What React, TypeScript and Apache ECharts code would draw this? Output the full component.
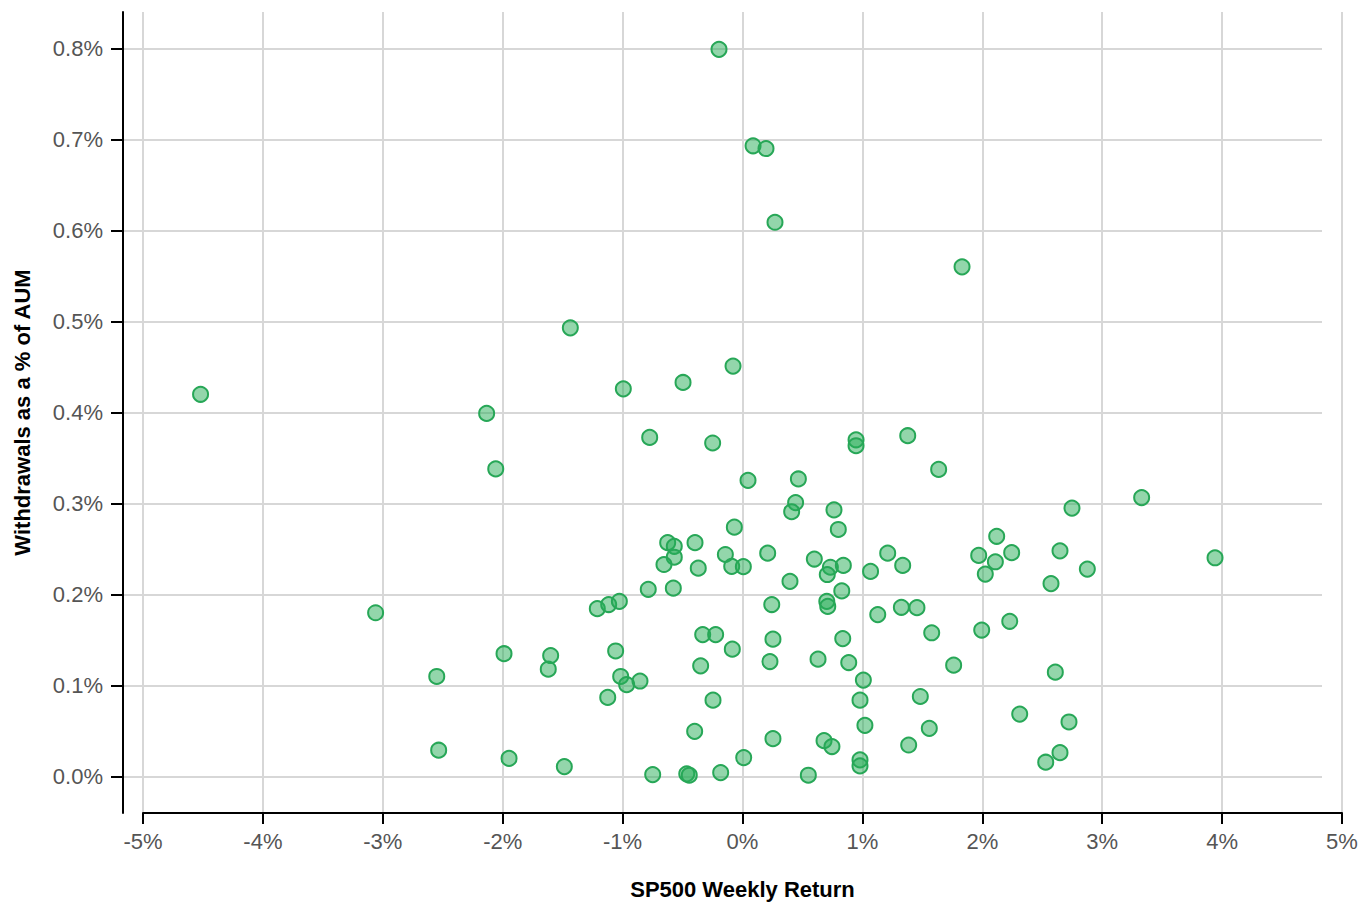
import React, { useEffect, useRef } from "react";
import * as echarts from "echarts";

// SP500 weekly return (%) and withdrawals as a % of AUM (%)
const weeklyReturn = [
  -4.52, -3.06, -2.55, -2.534, -2.134, -2.058, -1.989, -1.947, -1.6, -1.62,
  -1.486, -1.436, -1.211, -1.116, -1.027, -1.058, -1.016, -0.966, -0.855, -1.124,
  -0.994, -0.496, -0.079, -0.196, 0.088, 0.196, 0.271, 1.831,
  -0.774, -0.249, 0.046, 0.466, 0.947, 0.947, 0.443, 0.41, 0.763, 0.799,
  -0.068, -0.624, -0.569, -0.396, -0.569, -0.655, -0.369, -0.143, -0.09, 0.007,
  0.21, 0.599, 0.733, 0.707, 0.841, 1.068, 0.396, -0.786, -0.577, 0.828,
  0.244, 0.703, 0.711, -0.332, -0.224, -0.085, 0.254, 0.836, -0.349, 0.229,
  0.63, 0.886, 1.008, 0.98, -0.246, 1.021, -0.399, 0.254, 0.68, 0.746,
  0.98, 0.98, 0.01, -0.749, -0.465, -0.444, -0.182, 0.549,
  1.378, 1.636, 2.748, 2.12, 1.211, 1.97, 2.245, 2.648, 1.336, 2.109,
  2.025, 2.573, 2.876, 1.128, 1.325, 1.455, 1.578, 1.995, 2.229, 1.761,
  2.609, 1.483, 2.312, 2.723, 1.558, 1.386, 2.648, 2.529,
  3.329, 3.941,
];

const withdrawals = [
  0.42, 0.18, 0.11, 0.029, 0.399, 0.338, 0.135, 0.02, 0.133, 0.118,
  0.011, 0.493, 0.1845, 0.189, 0.1925, 0.138, 0.11, 0.101, 0.105, 0.087,
  0.426, 0.433, 0.451, 0.799, 0.693, 0.69, 0.609, 0.56,
  0.3726, 0.3665, 0.3255, 0.327, 0.37, 0.3635, 0.301, 0.291, 0.293, 0.2715,
  0.274, 0.257, 0.253, 0.257, 0.241, 0.233, 0.229, 0.244, 0.231, 0.2306,
  0.2455, 0.239, 0.23, 0.222, 0.232, 0.2254, 0.2145, 0.2057, 0.207, 0.204,
  0.189, 0.1925, 0.187, 0.156, 0.156, 0.14, 0.151, 0.1516, 0.1217, 0.1264,
  0.129, 0.1253, 0.106, 0.084, 0.084, 0.0563, 0.0497, 0.0417, 0.0395, 0.033,
  0.0183, 0.0117, 0.0208, 0.0022, 0.003, 0.0015, 0.0044, 0.0015,
  0.3745, 0.3375, 0.295, 0.264, 0.2455, 0.243, 0.246, 0.248, 0.232, 0.236,
  0.2225, 0.212, 0.228, 0.178, 0.186, 0.1856, 0.158, 0.161, 0.1706, 0.1224,
  0.1147, 0.088, 0.0687, 0.06, 0.053, 0.0347, 0.0263, 0.0158,
  0.3065, 0.2404,
];

const xTicks = { min: -5, max: 5, step: 1 };
const yRange = { min: -0.04, max: 0.84 };

const xTitle = "SP500 Weekly Return";
const yTitle = "Withdrawals as a % of AUM";

const FONT = "'Liberation Sans', Arial, Helvetica, sans-serif";
const GRID_COLOR = "#d7d7d7";
const LABEL_COLOR = "#555555";

export default function App() {
  const ref = useRef<HTMLDivElement>(null);

  useEffect(() => {
    if (!ref.current) return;
    const chart = echarts.init(ref.current, undefined, { renderer: "svg" });
    const points = weeklyReturn.map((x, i) => [x, withdrawals[i]]);

    chart.setOption({
      animation: false,
      textStyle: { fontFamily: FONT },
      grid: [
        { left: 143, right: 30, top: 12, bottom: 105, containLabel: false },
        { left: 123, right: 50, top: 12, bottom: 105, containLabel: false },
      ],
      xAxis: [
        {
          gridIndex: 0,
          type: "value",
          min: xTicks.min,
          max: xTicks.max,
          interval: xTicks.step,
          axisLine: { show: true, onZero: false, lineStyle: { color: "#000", width: 2 } },
          axisTick: { show: true, inside: false, length: 11, lineStyle: { color: "#000", width: 2 } },
          axisLabel: {
            margin: 17,
            fontSize: 22,
            color: LABEL_COLOR,
            fontFamily: FONT,
            formatter: (v: number) => `${v}%`,
          },
          splitLine: { show: true, lineStyle: { color: GRID_COLOR, width: 2 } },
          name: xTitle,
          nameLocation: "middle",
          nameGap: 65,
          nameTextStyle: { fontSize: 22, fontWeight: "bold", color: "#000", fontFamily: FONT },
        },
        {
          gridIndex: 1,
          type: "value",
          min: xTicks.min,
          max: xTicks.max,
          show: false,
        },
      ],
      yAxis: [
        {
          gridIndex: 0,
          type: "value",
          min: yRange.min,
          max: yRange.max,
          show: false,
          splitLine: { show: false },
        },
        {
          gridIndex: 1,
          type: "value",
          min: yRange.min,
          max: yRange.max,
          splitNumber: 9,
          axisLine: { show: true, onZero: false, lineStyle: { color: "#000", width: 2 } },
          axisTick: { show: true, inside: false, length: 12, lineStyle: { color: "#000", width: 2 } },
          axisLabel: {
            margin: 20,
            fontSize: 22,
            color: LABEL_COLOR,
            fontFamily: FONT,
            showMinLabel: false,
            showMaxLabel: false,
            formatter: (v: number) =>
              Math.abs(v * 10 - Math.round(v * 10)) < 1e-6 ? `${v.toFixed(1)}%` : "",
          },
          splitLine: {
            show: true,
            showMinLine: false,
            showMaxLine: false,
            lineStyle: { color: GRID_COLOR, width: 2 },
          },
          name: yTitle,
          nameLocation: "middle",
          nameGap: 90,
          nameRotate: 90,
          nameTextStyle: { fontSize: 22, fontWeight: "bold", color: "#000", fontFamily: FONT },
        },
      ],
      series: [
        {
          type: "scatter",
          xAxisIndex: 0,
          yAxisIndex: 0,
          data: points,
          symbol: "circle",
          symbolSize: 15,
          itemStyle: {
            color: "rgba(39,173,87,0.5)",
            borderColor: "#27a757",
            borderWidth: 2,
            opacity: 1,
          },
          emphasis: { disabled: true },
        },
      ],
    });

    return () => chart.dispose();
  }, []);

  return (
    <div
      ref={ref}
      style={{ position: "fixed", left: 0, top: 0, width: 1372, height: 918, background: "#fff" }}
    />
  );
}
